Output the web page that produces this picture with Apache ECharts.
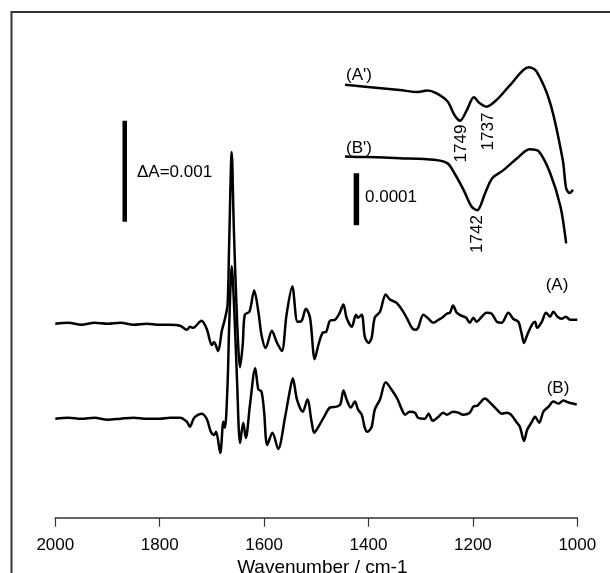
<!DOCTYPE html>
<html>
<head>
<meta charset="utf-8">
<title>Difference spectra</title>
<script src="https://cdn.jsdelivr.net/npm/echarts/dist/echarts.min.js"></script>
<style>
  html,
  body {
    margin: 0;
    padding: 0;
    background: #fff;
  }
  #main {
    width: 610px;
    height: 573px;
  }
</style>
</head>
<body>
<div id="main"></div>
<script>
// 数值单位: mΔA (1 = ΔA 0.001), 相对各自基线
const traceA = [
  [2000, 0], [1975, 0.01], [1950, -0.01], [1925, 0.01], [1900, 0], [1875, 0.01],
  [1850, -0.01], [1825, 0], [1800, -0.01], [1780, -0.01], [1761, -0.02], [1748, -0.06],
  [1742, -0.03], [1736, -0.04], [1720, 0.03], [1710, -0.05], [1700, -0.21], [1696, -0.18],
  [1688, -0.27], [1681, -0.07], [1675, 0.05], [1670, 0.19], [1667, 0.78], [1662, 1.7],
  [1658, 0.95], [1652, 0.06], [1646, -0.43], [1641, -0.21], [1637, 0.09], [1628, 0.12],
  [1619, 0.33], [1611, 0.12], [1605, -0.11], [1597, -0.24], [1585, -0.07], [1576, -0.18],
  [1566, -0.27], [1557, 0.09], [1546, 0.37], [1536, 0.02], [1528, 0.03], [1520, 0.15],
  [1512, 0.06], [1503, -0.35], [1496, -0.21], [1488, -0.09], [1481, -0.08], [1474, 0.03],
  [1464, 0.04], [1456, 0.1], [1448, 0.19], [1442, 0.06], [1432, -0.03], [1424, 0.09],
  [1420, 0.06], [1413, 0.09], [1407, -0.13], [1400, -0.19], [1394, -0.14], [1388, 0.06],
  [1378, 0.12], [1367, 0.29], [1359, 0.24], [1347, 0.21], [1336, 0.14], [1327, 0.06],
  [1317, -0.04], [1311, -0.06], [1305, -0.04], [1295, 0.09], [1285, 0.05], [1276, 0.01],
  [1266, 0.04], [1259, 0.06], [1250, 0.1], [1244, 0.11], [1238, 0.18], [1231, 0.11],
  [1222, 0.08], [1213, 0.06], [1206, 0.01], [1199, 0.06], [1193, 0.02], [1183, 0.07],
  [1174, 0.11], [1164, 0.1], [1154, 0.02], [1145, 0.01], [1132, 0.11], [1123, 0.05],
  [1113, 0.02], [1107, -0.09], [1102, -0.19], [1096, -0.11], [1087, -0.01], [1081, 0.02],
  [1077, -0.04], [1068, 0.02], [1060, 0.11], [1052, 0.07], [1046, 0.12], [1038, 0.07],
  [1030, 0.05], [1022, 0.07], [1014, 0.04], [1000, 0.04],
];

const traceB = [
  [2000, 0], [1975, 0.01], [1950, 0], [1925, 0.01], [1900, -0.01], [1875, 0],
  [1850, 0.01], [1825, 0], [1800, 0], [1780, 0.01], [1761, 0.01], [1748, -0.03],
  [1742, -0.08], [1736, -0.01], [1732, 0.02], [1720, 0.05], [1710, 0], [1702, -0.13],
  [1696, -0.16], [1692, -0.13], [1684, -0.34], [1678, -0.03], [1675, -0.09], [1670, 0.34],
  [1667, 0.9], [1662, 1.51], [1657, 1.06], [1652, 0.4], [1646, -0.24], [1640, -0.04],
  [1635, -0.19], [1627, 0.14], [1617, 0.5], [1611, 0.29], [1605, 0.27], [1600, 0.07],
  [1594, -0.26], [1584, -0.14], [1573, -0.3], [1560, 0.01], [1552, 0.24], [1545, 0.4],
  [1537, 0.19], [1526, 0.07], [1517, 0.19], [1509, -0.03], [1504, -0.14], [1496, -0.08],
  [1486, 0.01], [1474, 0.11], [1461, 0.12], [1454, 0.14], [1448, 0.28], [1442, 0.19],
  [1434, 0.11], [1426, 0.17], [1420, 0.09], [1413, 0.04], [1407, -0.09], [1402, -0.13],
  [1394, -0.08], [1388, 0.09], [1378, 0.19], [1367, 0.36], [1356, 0.29], [1345, 0.2],
  [1336, 0.09], [1330, 0.04], [1321, 0.07], [1311, 0.06], [1305, 0.01], [1292, 0],
  [1285, 0.05], [1277, -0.02], [1266, 0.02], [1257, 0.06], [1250, 0.04], [1238, 0.07],
  [1228, 0.06], [1219, 0.04], [1206, 0.06], [1199, 0.12], [1191, 0.13], [1186, 0.16],
  [1177, 0.2], [1167, 0.16], [1154, 0.09], [1145, 0.05], [1135, 0.06], [1127, 0.04],
  [1117, -0.03], [1110, -0.08], [1102, -0.22], [1096, -0.11], [1087, -0.03], [1081, 0.02],
  [1073, -0.04], [1065, 0.07], [1055, 0.12], [1046, 0.17], [1036, 0.15], [1027, 0.18],
  [1017, 0.16], [1008, 0.15], [1001, 0.14],
];

// 放大图 1800-1700
const insetA = [
  [1800, 0], [1790, -0.004], [1776, -0.01], [1768, -0.014], [1764, -0.011], [1760, -0.016],
  [1755, -0.032], [1752, -0.058], [1749.5, -0.069], [1746.5, -0.048], [1743.5, -0.024],
  [1741, -0.035], [1738, -0.042], [1733.5, -0.029], [1727.5, 0], [1719.5, 0.034],
  [1716, 0.026], [1710, -0.035], [1704.5, -0.144], [1703, -0.199], [1701.5, -0.208],
  [1700, -0.202],
];

const insetB = [
  [1800, 0], [1790, -0.001], [1776, -0.003], [1761, -0.006], [1755, -0.013], [1752, -0.032],
  [1748, -0.064], [1744.5, -0.096], [1742, -0.103], [1738.5, -0.07], [1735.5, -0.042],
  [1730.5, -0.026], [1724.5, -0.003], [1719, 0.014], [1715, 0.01], [1710, -0.032],
  [1705.5, -0.096], [1703, -0.167],
];

// 各曲线偏移
const offsetA = 1.92;
const offsetB = 0.98;
const offsetInsetA = 0.333;
const offsetInsetB = 0.195;

// 标尺: 位置(波数), 起点, 长度
const scaleMain = [1867, 2.93, 1];
const scaleInset = [1795, 0.063, 0.1];

const peakLabels = ["1749", "1737", "1742"];
const traceLabels = ["(A)", "(B)", "(A')", "(B')"];

const FONT = '17px "Liberation Sans", Arial, sans-serif';

function shift(data, off) {
  return data.map((p) => [p[0], p[1] + off]);
}

function spectrum(data, idx) {
  return {
    type: "line",
    xAxisIndex: idx,
    yAxisIndex: idx,
    data: data,
    showSymbol: false,
    symbol: "none",
    smooth: 0.3,
    lineStyle: { color: "#000", width: 2.5 },
  };
}

function bar(s, idx, w) {
  return {
    type: "line",
    xAxisIndex: idx,
    yAxisIndex: idx,
    data: [[s[0], s[1]], [s[0], s[1] + s[2]]],
    symbol: "none",
    lineStyle: { color: "#000", width: w, cap: "butt" },
  };
}

const chart = echarts.init(document.getElementById("main"));

const options = {
  animation: false,
  grid: [
    { left: 55.3, right: 32.7, top: 12.7, bottom: 55.3, containLabel: false, outerBoundsMode: "none" },
    { left: 345, right: 37, top: 50, bottom: 315, containLabel: false, outerBoundsMode: "none" },
  ],
  xAxis: [
    {
      type: "value",
      min: 1000,
      max: 2000,
      interval: 200,
      inverse: true,
      name: "Wavenumber / cm-1",
      nameLocation: "middle",
      nameGap: 41,
      nameTextStyle: {
        color: "#000",
        fontSize: 19,
        fontFamily: "Liberation Sans",
        padding: [0, 0, 0, 12],
      },
      axisLine: { lineStyle: { color: "#333", width: 1.5 } },
      axisTick: { show: true, length: 9, lineStyle: { color: "#333", width: 1.2 } },
      axisLabel: {
        color: "#000",
        fontSize: 17,
        fontFamily: "Liberation Sans",
        margin: 19,
        formatter: (v) => String(v),
      },
      splitLine: { show: false },
    },
    { type: "value", gridIndex: 1, min: 1700, max: 1800, inverse: true, show: false },
  ],
  yAxis: [
    { type: "value", min: 0, max: 5, show: false },
    { type: "value", gridIndex: 1, min: 0, max: 0.4, show: false },
  ],
  series: [
    spectrum(shift(traceA, offsetA), 0),
    spectrum(shift(traceB, offsetB), 0),
    spectrum(shift(insetA, offsetInsetA), 1),
    spectrum(shift(insetB, offsetInsetB), 1),
    bar(scaleMain, 0, 4.5),
    bar(scaleInset, 1, 5.5),
  ],
};
chart.setOption(options);

// 文字标注
const px = (wn) => chart.convertToPixel({ gridIndex: 1 }, [Number(wn), 0])[0];

function txt(text, x, y, align, rot) {
  return {
    type: "text",
    x: x,
    y: y,
    rotation: rot || 0,
    style: {
      text: text,
      font: FONT,
      fill: "#000",
      textAlign: align,
      textVerticalAlign: "middle",
      align: align,
      verticalAlign: "middle",
    },
  };
}

chart.setOption({
  graphic: [
    {
      type: "rect",
      shape: { x: 11.5, y: 12, width: 800, height: 800 },
      style: { fill: "none", stroke: "#333", lineWidth: 2 },
    },
    txt("ΔA=0.001", 137, 172, "left"),
    txt("0.0001", 365, 197, "left"),
    txt(traceLabels[0], 557, 285, "center"),
    txt(traceLabels[1], 558, 388, "center"),
    txt(traceLabels[2], 346, 75, "left"),
    txt(traceLabels[3], 346, 148, "left"),
    txt(peakLabels[0], px(peakLabels[0]), 143.5, "center", Math.PI / 2),
    txt(peakLabels[1], px(peakLabels[1]), 131.5, "center", Math.PI / 2),
    txt(peakLabels[2], px(peakLabels[2]), 234, "center", Math.PI / 2),
  ],
});

window.addEventListener("resize", () => {
  chart.resize();
});
</script>
</body>
</html>
